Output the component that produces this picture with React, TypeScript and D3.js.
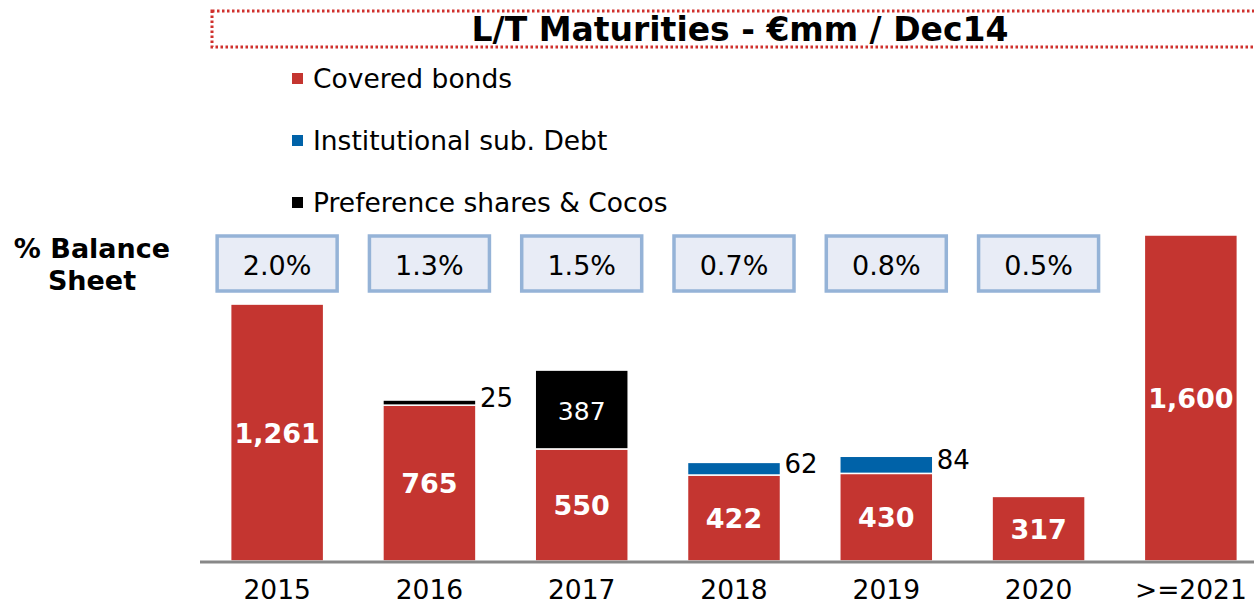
import * as d3 from "d3";

const categories = ["2015", "2016", "2017", "2018", "2019", "2020", ">=2021"];
const coveredBonds = [1261, 765, 550, 422, 430, 317, 1600];
const subDebt = [0, 0, 0, 62, 84, 0, 0];
const prefShares = [0, 25, 387, 0, 0, 0, 0];
const balancePct = [2.0, 1.3, 1.5, 0.7, 0.8, 0.5];

const seriesKeys = ["covered", "sub", "pref"];
const seriesNames = ["Covered bonds", "Institutional sub. Debt", "Preference shares & Cocos"];
const colors: Record<string, string> = { covered: "#c43530", sub: "#0062a8", pref: "#000000" };

const W = 1254;
const H = 604;
const font = "'DejaVu Sans', Verdana, sans-serif";

export default function App() {
  const rows = categories.map((c, i) => ({
    cat: c,
    covered: coveredBonds[i],
    sub: subDebt[i],
    pref: prefShares[i],
  }));

  const stacked = d3.stack<any>().keys(seriesKeys)(rows);

  const x = d3.scalePoint<string>().domain(categories).range([201, 1267]).padding(0.5);
  const y = d3.scaleLinear().domain([0, 1600]).range([561, 235]);
  const barW = 93;
  const fmt = d3.format(",");

  return (
    <svg width={W} height={H} style={{ position: "absolute", left: 0, top: 0 }} fontFamily={font}>
      {/* title box */}
      <rect x={212} y={11} width={1060} height={36} fill="none" stroke="#d0312d" strokeWidth={3} strokeDasharray="2.5 2.5" />
      <text x={740} y={41} textAnchor="middle" fontSize={33} fontWeight="bold">
        L/T Maturities - €mm / Dec14
      </text>

      {/* legend */}
      {seriesKeys.map((k, i) => (
        <g key={k} transform={`translate(292, ${78 + i * 62})`}>
          <rect x={0} y={-5} width={11} height={11} fill={colors[k]} />
          <text x={21} y={10} fontSize={26.5}>
            {seriesNames[i]}
          </text>
        </g>
      ))}

      {/* % balance sheet */}
      <text x={92} y={258} textAnchor="middle" fontSize={27} fontWeight="bold">% Balance</text>
      <text x={92} y={290} textAnchor="middle" fontSize={27} fontWeight="bold">Sheet</text>
      {balancePct.map((p, i) => {
        const cx = x(categories[i])!;
        return (
          <g key={i}>
            <rect x={cx - 60} y={236} width={120} height={55} fill="#e8ecf6" stroke="#95b3d7" strokeWidth={3.5} />
            <text x={cx} y={275} textAnchor="middle" fontSize={27}>
              {d3.format(".1f")(p)}%
            </text>
          </g>
        );
      })}

      {/* bars */}
      {stacked.map((s) => (
        <g key={s.key}>
          {s.map((d, i) => {
            if (d[1] - d[0] <= 0) return null;
            const cx = x(categories[i])!;
            const y0 = y(d[0]);
            const y1 = y(d[1]);
            const h = y0 - y1;
            return (
              <rect key={i} x={cx - barW / 2} y={y1} width={barW} height={h} fill={colors[s.key]} stroke="#fff" strokeWidth={1.5} />
            );
          })}
        </g>
      ))}

      {/* labels */}
      {stacked.map((s) => (
        <g key={s.key + "l"}>
          {s.map((d, i) => {
            const v = d[1] - d[0];
            if (v <= 0) return null;
            const cx = x(categories[i])!;
            const y0 = y(d[0]);
            const y1 = y(d[1]);
            const h = y0 - y1;
            if (h < 30) {
              return (
                <text key={i} x={cx + barW / 2 + 4} y={(y0 + y1) / 2 + 4} fontSize={26}>
                  {fmt(v)}
                </text>
              );
            }
            return (
              <text
                key={i}
                x={cx}
                y={(y0 + y1) / 2 + 10}
                textAnchor="middle"
                fontSize={s.key === "covered" ? 27 : 25}
                fontWeight={s.key === "covered" ? "bold" : "normal"}
                fill="#fff"
              >
                {fmt(v)}
              </text>
            );
          })}
        </g>
      ))}

      {/* axis */}
      <line x1={200} x2={1254} y1={562} y2={562} stroke="#888" strokeWidth={3} />
      {categories.map((c) => (
        <text key={c} x={x(c)} y={599} textAnchor="middle" fontSize={26.5}>
          {c}
        </text>
      ))}
    </svg>
  );
}
